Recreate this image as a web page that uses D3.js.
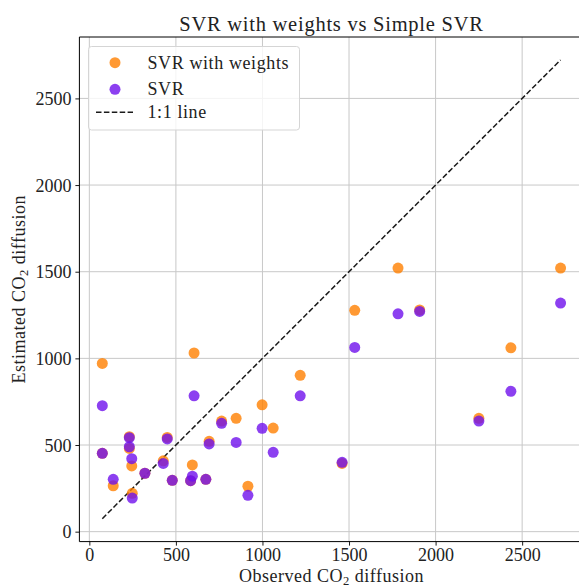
<!DOCTYPE html>
<html>
<head>
<meta charset="utf-8">
<script src="https://cdn.jsdelivr.net/npm/d3@7"></script>
<style>
  html, body { margin: 0; padding: 0; background: #fff; }
  svg { display: block; font-family: "Liberation Serif", "Times New Roman", serif; }
</style>
</head>
<body>
<svg id="chart" width="579" height="588"></svg>
<script>
// Observed CO2 diffusion for each sample
const observed = [75, 75, 138, 231, 231, 245, 248, 321, 427, 450, 479, 585, 595, 605, 673, 692,
                  764, 848, 916, 998, 1062, 1218, 1460, 1533, 1783, 1908, 2250, 2435, 2722];
// Estimates from the weighted SVR
const svrWeighted = [971, 452, 265, 548, 480, 379, 221, 337, 409, 544, 296, 294, 385, 1031, 302, 521,
                     638, 654, 262, 732, 598, 902, 394, 1277, 1521, 1279, 654, 1061, 1521];
// Estimates from the plain SVR
const svrPlain = [727, 452, 302, 542, 490, 421, 194, 337, 394, 535, 296, 294, 320, 784, 302, 506,
                  625, 515, 210, 596, 458, 784, 400, 1063, 1257, 1271, 638, 810, 1319];
const tickValues = [0, 500, 1000, 1500, 2000, 2500];

const seriesNames = ["SVR with weights", "SVR"];
const seriesColors = ["#ff7f00", "#6f10ec"];

const svg = d3.select("#chart");
const plot = { left: 79.4, top: 37, right: 583.5, bottom: 541.6 };

// Shared limits with 5% padding on each side
const all = observed.concat(svrWeighted, svrPlain);
const lo = d3.min(all), hi = d3.max(all), pad = (hi - lo) * 0.05;
const x = d3.scaleLinear().domain([lo - pad, hi + pad]).range([plot.left, plot.right]);
const y = d3.scaleLinear().domain([lo - pad, hi + pad]).range([plot.bottom, plot.top]);

const fs = 18;
const r = 5.5;

// Grid
const grid = svg.append("g").attr("stroke", "#c8c8c8").attr("stroke-width", 1);
grid.selectAll("line.gx").data(tickValues).join("line")
  .attr("x1", d => x(d)).attr("x2", d => x(d))
  .attr("y1", plot.top).attr("y2", plot.bottom);
grid.selectAll("line.gy").data(tickValues).join("line")
  .attr("y1", d => y(d)).attr("y2", d => y(d))
  .attr("x1", plot.left).attr("x2", plot.right);

// 1:1 reference line across the observed range
const oMin = d3.min(observed), oMax = d3.max(observed);
svg.append("line")
  .attr("x1", x(oMin)).attr("y1", y(oMin))
  .attr("x2", x(oMax)).attr("y2", y(oMax))
  .attr("stroke", "#1a1a1a").attr("stroke-width", 1.5)
  .attr("stroke-dasharray", "5.5,2.4");

// Scatter points
const series = [svrWeighted, svrPlain];
series.forEach((vals, k) => {
  svg.append("g").selectAll("circle").data(vals).join("circle")
    .attr("cx", (d, i) => x(observed[i]))
    .attr("cy", d => y(d))
    .attr("r", r)
    .attr("fill", seriesColors[k])
    .attr("fill-opacity", 0.8);
});

// Frame
svg.append("path")
  .attr("d", `M${plot.left},${plot.top}H${plot.right}M${plot.left},${plot.top}V${plot.bottom}H${plot.right}`)
  .attr("fill", "none").attr("stroke", "#000").attr("stroke-width", 1);

// Axes
const xAxis = d3.axisBottom(x).tickValues(tickValues).tickSize(4).tickPadding(3).tickFormat(d3.format("d"));
const yAxis = d3.axisLeft(y).tickValues(tickValues).tickSize(4).tickPadding(4).tickFormat(d3.format("d"));
const gx = svg.append("g").attr("transform", `translate(0,${plot.bottom})`).call(xAxis);
const gy = svg.append("g").attr("transform", `translate(${plot.left},0)`).call(yAxis);
[gx, gy].forEach(g => {
  g.attr("font-family", null);
  g.select(".domain").remove();
  g.selectAll(".tick line").attr("stroke", "#000").attr("stroke-width", 0.9);
  g.selectAll(".tick text").attr("font-family", "Liberation Serif, serif")
    .attr("font-size", fs).attr("fill", "#222");
});
gx.selectAll(".tick text").attr("dy", "0.68em");
gy.selectAll(".tick text").attr("dy", "0.34em");

// Title
svg.append("text")
  .attr("x", (plot.left + plot.right) / 2).attr("y", 31)
  .attr("text-anchor", "middle").attr("font-size", 20.5)
  .attr("letter-spacing", 0.75).attr("fill", "#222")
  .text("SVR with weights vs Simple SVR");

// Axis labels with subscript
function subLabel(sel, pre, sub, post) {
  sel.append("tspan").text(pre);
  sel.append("tspan").attr("font-size", fs * 0.7).attr("dy", 2.5).text(sub);
  sel.append("tspan").attr("dy", -2.5).text(post);
}
const xl = svg.append("text")
  .attr("x", (plot.left + plot.right) / 2).attr("y", 582)
  .attr("text-anchor", "middle").attr("font-size", fs)
  .attr("letter-spacing", 0.5).attr("fill", "#222");
subLabel(xl, "Observed CO", "2", " diffusion");

const yl = svg.append("text")
  .attr("transform", `translate(25,${(plot.top + plot.bottom) / 2}) rotate(-90)`)
  .attr("text-anchor", "middle").attr("font-size", fs)
  .attr("letter-spacing", 0.5).attr("fill", "#222");
subLabel(yl, "Estimated CO", "2", " diffusion");

// Legend
const lg = svg.append("g");
lg.append("rect")
  .attr("x", 88.5).attr("y", 46.5).attr("width", 211).attr("height", 83.5).attr("rx", 3)
  .attr("fill", "#fff").attr("fill-opacity", 0.8)
  .attr("stroke", "#d5d5d5").attr("stroke-width", 1);
const rows = [62.7, 89.3, 112.3];
seriesNames.forEach((name, k) => {
  lg.append("circle").attr("cx", 115).attr("cy", rows[k]).attr("r", r)
    .attr("fill", seriesColors[k]).attr("fill-opacity", 0.8);
  lg.append("text").attr("x", 147.5).attr("y", rows[k] + 6)
    .attr("font-size", fs).attr("letter-spacing", 0.6).attr("fill", "#222").text(name);
});
lg.append("line").attr("x1", 96).attr("x2", 133).attr("y1", rows[2]).attr("y2", rows[2])
  .attr("stroke", "#1a1a1a").attr("stroke-width", 1.5).attr("stroke-dasharray", "5.5,2.4");
lg.append("text").attr("x", 147.5).attr("y", rows[2] + 6)
  .attr("font-size", fs).attr("letter-spacing", 0.6).attr("fill", "#222").text("1:1 line");
</script>
</body>
</html>
